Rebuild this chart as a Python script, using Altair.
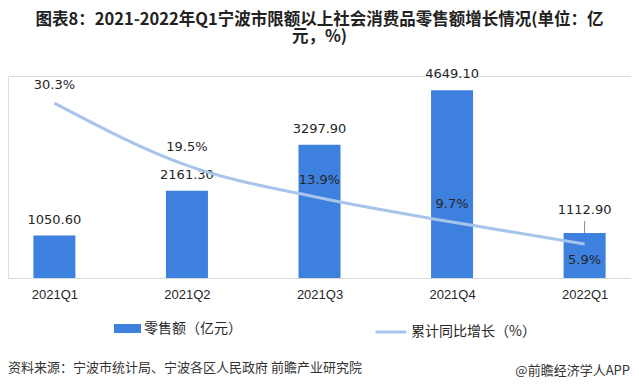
import altair as alt
import pandas as pd

quarters = ["2021Q1", "2021Q2", "2021Q3", "2021Q4", "2022Q1"]
sales = [1050.60, 2161.30, 3297.90, 4649.10, 1112.90]
growth = [30.3, 19.5, 13.9, 9.7, 5.9]
sales_labels = ["1050.60", "2161.30", "3297.90", "4649.10", "1112.90"]
growth_labels = ["30.3%", "19.5%", "13.9%", "9.7%", "5.9%"]
series_names = ["零售额（亿元）", "累计同比增长（%）"]
title_line1 = "图表8：2021-2022年Q1宁波市限额以上社会消费品零售额增长情况(单位：亿"
title_line2 = "元，%)"
source_text = "资料来源：宁波市统计局、宁波各区人民政府 前瞻产业研究院"
brand_text = "@前瞻经济学人APP"

df = pd.DataFrame({
    "q": quarters, "sales": sales, "growth": growth,
    "sl": sales_labels, "gl": growth_labels,
    "s1": series_names[0], "s2": series_names[1],
})

BLUE = "#3d80de"
LIGHT = "#a7c4ea"
TXT = "#262626"
CJK = "Noto Sans CJK SC"
NUM = "DejaVu Sans"

x = alt.X("q:N", sort=quarters,
          scale=alt.Scale(type="point", padding=0.35),
          axis=alt.Axis(title=None, labelAngle=0, ticks=False, domainColor="#d9d9d9",
                        labelFontSize=13, labelColor=TXT, labelFont="Liberation Sans",
                        labelPadding=10))
yL = alt.Y("sales:Q", scale=alt.Scale(domain=[0, 5000], nice=False), axis=None)
yR = alt.Y("growth:Q", scale=alt.Scale(domain=[0, 35], nice=False), axis=None)

base = alt.Chart(df)

bars = base.mark_bar(size=42).encode(
    x=x, y=yL,
    fill=alt.Fill("s1:N", scale=alt.Scale(domain=[series_names[0]], range=[BLUE]),
                  legend=alt.Legend(orient="none", legendX=106, legendY=239, title=None,
                                    symbolType="M-1,-0.333H1V0.333H-1Z", symbolSize=729,
                                    symbolStrokeWidth=0, labelFontSize=14, labelFont=CJK,
                                    labelColor=TXT, labelOffset=3)),
)
bar_text = base.mark_text(dy=-16, fontSize=13, font=NUM, color=TXT).encode(
    x=x, y=yL, text="sl:N"
).transform_filter(alt.datum.q != quarters[-1])
bar_text_last = base.mark_text(dy=-23, fontSize=13, font=NUM, color=TXT).encode(
    x=x, y=yL, text="sl:N"
).transform_filter(alt.datum.q == quarters[-1])
leader = base.mark_rule(color="#888888", strokeWidth=1, y2Offset=-12).encode(
    x=x, y=yL, y2="sales:Q"
).transform_filter(alt.datum.q == quarters[-1])

line = base.mark_line(strokeWidth=3, interpolate="monotone").encode(
    x=x, y=yR,
    stroke=alt.Stroke("s2:N", scale=alt.Scale(domain=[series_names[1]], range=[LIGHT]),
                      legend=alt.Legend(orient="none", legendX=366, legendY=239, title=None,
                                        symbolType="stroke", symbolSize=961,
                                        symbolStrokeWidth=3, labelFontSize=14, labelFont=CJK,
                                        labelColor=TXT, labelOffset=3)),
)
pct_text = base.mark_text(dy=-18, fontSize=13, font=NUM, color=TXT).encode(
    x=x, y=yR, text="gl:N"
).transform_filter(alt.datum.q != quarters[-1])
pct_text_last = base.mark_text(dy=16, fontSize=13, font=NUM, color=TXT).encode(
    x=x, y=yR, text="gl:N"
).transform_filter(alt.datum.q == quarters[-1])

src = alt.Chart(pd.DataFrame({"t": [source_text]})).mark_text(
    align="left", baseline="middle", fontSize=13, font=CJK, color="#333333"
).encode(x=alt.value(0), y=alt.value(292), text="t:N")
brand = alt.Chart(pd.DataFrame({"t": [brand_text]})).mark_text(
    align="right", baseline="middle", fontSize=13, font=CJK, color="#333333"
).encode(x=alt.value(622), y=alt.value(295), text="t:N")

chart = alt.layer(
    bars, bar_text, bar_text_last, leader, line, pct_text, pct_text_last, src, brand
).resolve_scale(y="independent").properties(
    width=623, height=202,
    autosize="none",
    padding={"left": 0, "top": 68, "right": 0, "bottom": 105},
    title=alt.TitleParams(text=title_line1, subtitle=title_line2,
                          fontSize=16.5, font=CJK, fontWeight="bold", color="#222222",
                          subtitleFontSize=16.5, subtitleFont=CJK, subtitleFontWeight="bold",
                          subtitleColor="#222222", subtitlePadding=0, subtitleLineHeight=17,
                          lineHeight=17, anchor="middle", offset=23),
).configure_view(stroke=None).configure(background="white")

chart.save("out.html", embed_options={"renderer": "svg", "actions": False})
